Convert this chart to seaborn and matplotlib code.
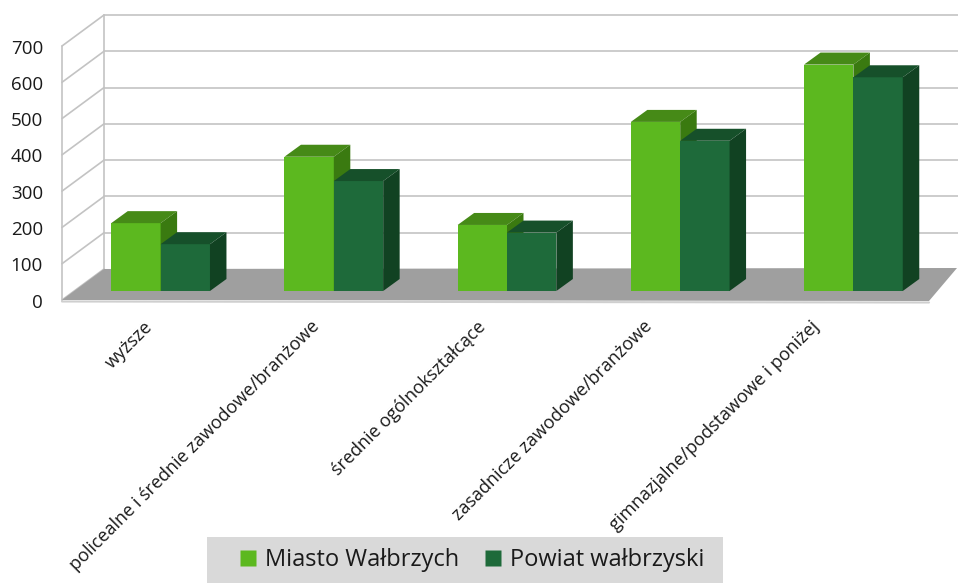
import numpy as np
import pandas as pd
import seaborn as sns
import matplotlib
matplotlib.use("Agg")
import matplotlib.pyplot as plt
from matplotlib.patches import Polygon, Rectangle
from matplotlib.lines import Line2D
import matplotlib.transforms as mtrans

# ---------------- data ----------------
categories = [
    "wyższe",
    "policealne i średnie zawodowe/branżowe",
    "średnie ogólnokształcące",
    "zasadnicze zawodowe/branżowe",
    "gimnazjalne/podstawowe i poniżej",
]
series_names = ["Miasto Wałbrzych", "Powiat wałbrzyski"]
miasto = [187, 370, 182, 466, 624]
powiat = [129, 303, 161, 414, 589]
yticks = [0, 100, 200, 300, 400, 500, 600, 700]

# ---------------- style ----------------
sns.set_style("white")
plt.rcParams["font.family"] = ["Open Sans", "DejaVu Sans"]

front_cols = ["#5cb81f", "#1e6a3a"]
top_cols = ["#468a17", "#16502a"]
side_cols = ["#3a7a10", "#114222"]
grid_col = "#c3c3c3"
floor_col = "#9f9f9f"
text_col = "#1a1a1a"

df = pd.DataFrame({
    "kat": categories * 2,
    "seria": [series_names[0]] * len(categories) + [series_names[1]] * len(categories),
    "wartosc": miasto + powiat,
})

W, H = 958, 583
fig = plt.figure(figsize=(W / 100, H / 100), dpi=100)
# axes = the plane of the bars' front faces (pixels)
ax = fig.add_axes([74 / W, (H - 291) / H, 866 / W, 254 / H])
sns.barplot(data=df, x="kat", y="wartosc", hue="seria", hue_order=series_names,
            order=categories, palette=front_cols, width=0.57, saturation=1,
            linewidth=0, legend=False, ax=ax)
ax.set_xlim(-0.5, len(categories) - 0.5)
ax.set_ylim(0, 700)
ax.set_axis_off()

I = mtrans.IdentityTransform()
def px(x, y):
    return ax.transData.transform((x, y))

# depth offsets (pixels)
FRONT = np.array([-12.0, -9.0])
BACK = np.array([30.0, 22.0])
BAR_D = np.array([16.5, 12.0])

L = px(-0.5, 0)[0]
R = px(len(categories) - 0.5, 0)[0]

# back wall gridlines & left wall
for v in yticks:
    y = px(0, v)[1]
    if v > 0:
        ax.add_line(Line2D([L + BACK[0], R + 40], [y + BACK[1]] * 2, color=grid_col,
                           lw=1.2, transform=I, clip_on=False, zorder=0.5))
    ax.add_line(Line2D([L + FRONT[0], L + BACK[0]], [y + FRONT[1], y + BACK[1]],
                       color=grid_col, lw=1.2, transform=I, clip_on=False, zorder=0.5))
y0 = px(0, 0)[1]
ytop = px(0, 700)[1]
ax.add_line(Line2D([L + FRONT[0]] * 2, [y0 + FRONT[1], ytop + FRONT[1]], color=grid_col,
                   lw=1.2, transform=I, clip_on=False, zorder=0.5))
ax.add_line(Line2D([L + BACK[0]] * 2, [y0 + BACK[1], ytop + BACK[1]], color=grid_col,
                   lw=1.2, transform=I, clip_on=False, zorder=0.5))

# floor
floor = Polygon([(L + FRONT[0], y0 + FRONT[1]), (L + BACK[0], y0 + BACK[1]),
                 (R + 17, y0 + 23), (R - 11, y0 - 10)], closed=True,
                facecolor=floor_col, edgecolor="none", transform=I, clip_on=False, zorder=0.8)
ax.add_patch(floor)
ax.add_line(Line2D([L + FRONT[0], R - 11], [y0 + FRONT[1] - 1.5, y0 - 11.5], color="#cfcfcf",
                   lw=1.5, transform=I, clip_on=False, zorder=0.8))

# 3D faces of the bars
n = len(categories)
for k, p in enumerate(ax.patches[: 2 * n]):
    s = k // n
    (x0, yb), (x1, yt) = ax.transData.transform(
        [(p.get_x(), p.get_y()), (p.get_x() + p.get_width(), p.get_y() + p.get_height())])
    z = 2 + 2 * s
    p.set_zorder(z)
    top = Polygon([(x0, yt), (x1, yt), (x1 + BAR_D[0], yt + BAR_D[1]), (x0 + BAR_D[0], yt + BAR_D[1])],
                  closed=True, facecolor=top_cols[s], edgecolor="none", transform=I,
                  clip_on=False, zorder=z + 0.5)
    side = Polygon([(x1, yb), (x1, yt), (x1 + BAR_D[0], yt + BAR_D[1]), (x1 + BAR_D[0], yb + BAR_D[1])],
                   closed=True, facecolor=side_cols[s], edgecolor="none", transform=I,
                   clip_on=False, zorder=z + 0.5)
    ax.add_patch(top)
    ax.add_patch(side)

# y tick labels (front axis)
for v in yticks:
    ax.text(0, v, str(v), transform=ax.get_yaxis_transform() +
            mtrans.ScaledTranslation(-31 / 100, -11.5 / 100, fig.dpi_scale_trans),
            ha="right", va="center", fontsize=13.5, color=text_col)

# x category labels
for i, c in enumerate(categories):
    ax.text(i, 0, c, transform=ax.get_xaxis_transform() +
            mtrans.ScaledTranslation((-11 - 6.5 * i) / 100, -33 / 100, fig.dpi_scale_trans),
            rotation=45, rotation_mode="anchor", ha="right", va="center",
            fontsize=13, color=text_col)

# legend (gray band + entries)
fig.add_artist(Rectangle((207 / W, 0), 516 / W, 46 / H, transform=fig.transFigure,
                         facecolor="#d9d9d9", edgecolor="none", zorder=1))
handles = [Line2D([], [], marker="s", linestyle="none", markersize=11,
                  markerfacecolor=front_cols[s], markeredgecolor="none") for s in range(2)]
leg = fig.legend(handles, series_names, loc="center", bbox_to_anchor=(472 / W, 23 / H),
                 ncol=2, frameon=False, fontsize=17, handlelength=0.7, handletextpad=0.35,
                 columnspacing=1.1, borderpad=0.3, borderaxespad=0)
leg.set_zorder(2)
for t in leg.get_texts():
    t.set_color(text_col)

fig.savefig("out.png", dpi=100)
